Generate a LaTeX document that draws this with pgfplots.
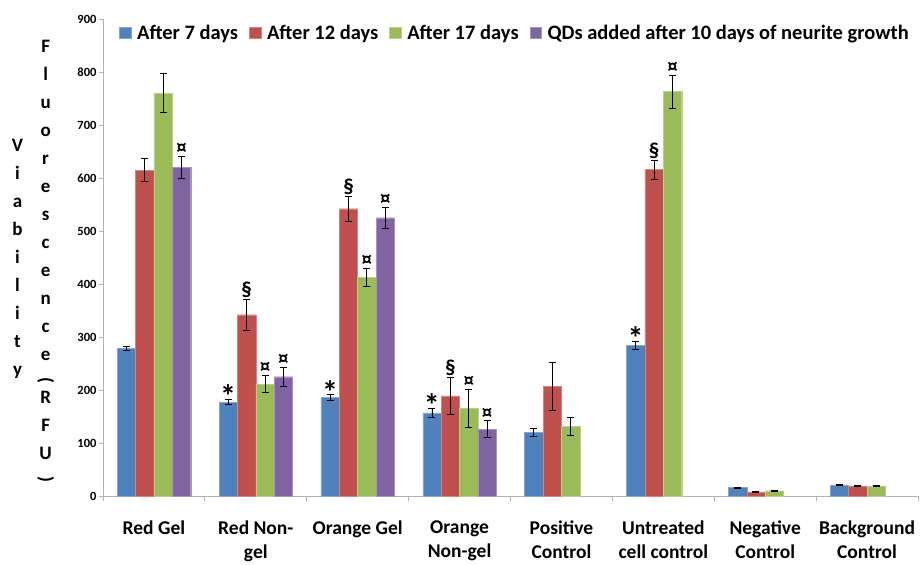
\documentclass[border=0pt]{standalone}
\usepackage{fontspec}
\setmainfont{Carlito}
\usepackage{graphicx}
\usepackage{pgfplots}
\usepackage{pgfplotstable}
\pgfplotsset{compat=1.18}

\definecolor{cblue}{HTML}{4F81BD}
\definecolor{cred}{HTML}{C0504D}
\definecolor{cgreen}{HTML}{9BBB59}
\definecolor{cpurple}{HTML}{8064A2}

% big asterisk used as significance mark
\newcommand\bigast{\raisebox{-10pt}[14pt][0pt]{\fontsize{32}{32}\selectfont *}}

% x = category index, y = mean, e = error, lab = significance mark
\pgfplotstableread{
x y e lab
0 278 4 {}
1 177 5 \bigast
2 186 5 \bigast
3 157 9 \bigast
4 120 8 {}
5 284 8 \bigast
6 16 1 {}
7 21 1 {}
}\daysseven
\pgfplotstableread{
x y e lab
0 615 22 {}
1 342 29 §
2 542 24 §
3 189 35 §
4 207 45 {}
5 616 18 §
6 8 1 {}
7 19 1 {}
}\daystwelve
\pgfplotstableread{
x y e lab
0 760 37 {}
1 211 16 ¤
2 413 17 ¤
3 165 36 ¤
4 131 17 {}
5 763 31 ¤
6 10 1 {}
7 19 1 {}
}\dayssevnteen
\pgfplotstableread{
x y e lab
0 620 21 ¤
1 225 18 ¤
2 525 20 ¤
3 126 16 ¤
}\qdsadded

\newcommand\lt[1]{#1\rule[-8pt]{0pt}{28pt}}
\newcommand\lp[1]{\rotatebox{-90}{#1}\rule[-3pt]{0pt}{12pt}}

\begin{document}
\begin{tikzpicture}
\begin{axis}[
    name=ax,
    scale only axis,
    width=815pt, height=477pt,
    ybar=0pt, bar width=18.4pt,
    xmin=-0.5, xmax=7.5,
    ymin=0, ymax=900,
    ytick={0,100,...,900},
    xtick={0,...,7},
    xticklabels={Red Gel, Red Non-\\gel, Orange Gel, Orange\\Non-gel,
        Positive\\Control, Untreated\\cell control, Negative\\Control,
        Background\\Control},
    minor xtick={-0.5,0.5,...,7.5},
    axis x line*=bottom, axis y line*=left,
    axis line style={gray!60, line width=0.8pt},
    tick align=outside,
    major tick length=4pt, minor tick length=5pt,
    major x tick style={draw=none},
    minor x tick style={gray!60, line width=0.8pt},
    ytick style={gray!60, line width=0.8pt},
    /pgf/number format/assume math mode=true,
    yticklabel style={font=\bfseries\fontsize{12.5}{14}\selectfont, xshift=1pt},
    xticklabel style={font=\bfseries\fontsize{19.5}{24.5}\selectfont,
        align=center, anchor=north, yshift=-17pt},
    ylabel={\fontsize{19}{22}\bfseries\selectfont
        \renewcommand\arraystretch{0}%
        \begin{tabular}[c]{@{}c@{}}\lt{V}\\\lt{i}\\\lt{a}\\\lt{b}\\\lt{i}\\\lt{l}\\\lt{i}\\\lt{t}\\\lt{y}\end{tabular}%
        \hspace{14pt}%
        \begin{tabular}[c]{@{}c@{}}\lt{F}\\\lt{l}\\\lt{u}\\\lt{o}\\\lt{r}\\\lt{e}\\\lt{s}\\\lt{c}\\\lt{e}\\\lt{n}\\\lt{c}\\\lt{e}\\\lp{(}\\\lt{R}\\\lt{F}\\\lt{U}\\\lp{)}\end{tabular}},
    every axis y label/.style={at={(rel axis cs:0,0.5)}, anchor=center, xshift=-70pt},
    legend style={draw=none, fill=none, at={(0.016,0.997)}, anchor=north west,
        legend columns=-1, font=\bfseries\fontsize{20.5}{24}\selectfont,
        /tikz/every odd column/.append style={column sep=4pt},
        /tikz/every even column/.append style={column sep=9pt}},
    legend image code/.code={\fill[#1] (0pt,-5.5pt) rectangle (11.5pt,5.5pt);},
    error bars/y dir=both, error bars/y explicit,
    error bars/error mark options={rotate=90, mark size=3.5pt, black, line width=0.9pt},
    error bars/error bar style={black, line width=0.9pt},
    point meta=explicit symbolic,
    visualization depends on={\thisrow{e} \as \myerr},
    nodes near coords,
    nodes near coords style={anchor=south, inner sep=1.5pt, black,
        font=\bfseries\fontsize{21}{24}\selectfont, yshift={\myerr*0.53pt}},
]
\addplot[fill=cblue, draw=cblue!70!white] table[x=x, y=y, y error=e, meta=lab] {\daysseven};
\addplot[fill=cred, draw=cred!70!white] table[x=x, y=y, y error=e, meta=lab] {\daystwelve};
\addplot[fill=cgreen, draw=cgreen!70!white] table[x=x, y=y, y error=e, meta=lab] {\dayssevnteen};
\addplot[fill=cpurple, draw=cpurple!70!white] table[x=x, y=y, y error=e, meta=lab] {\qdsadded};
\legend{After 7 days, After 12 days, After 17 days, QDs added after 10 days of neurite growth}
\end{axis}
\pgfresetboundingbox
\path ([xshift=-103pt, yshift=-68pt]ax.south west) rectangle ([xshift=3pt, yshift=19pt]ax.north east);
\end{tikzpicture}
\end{document}
